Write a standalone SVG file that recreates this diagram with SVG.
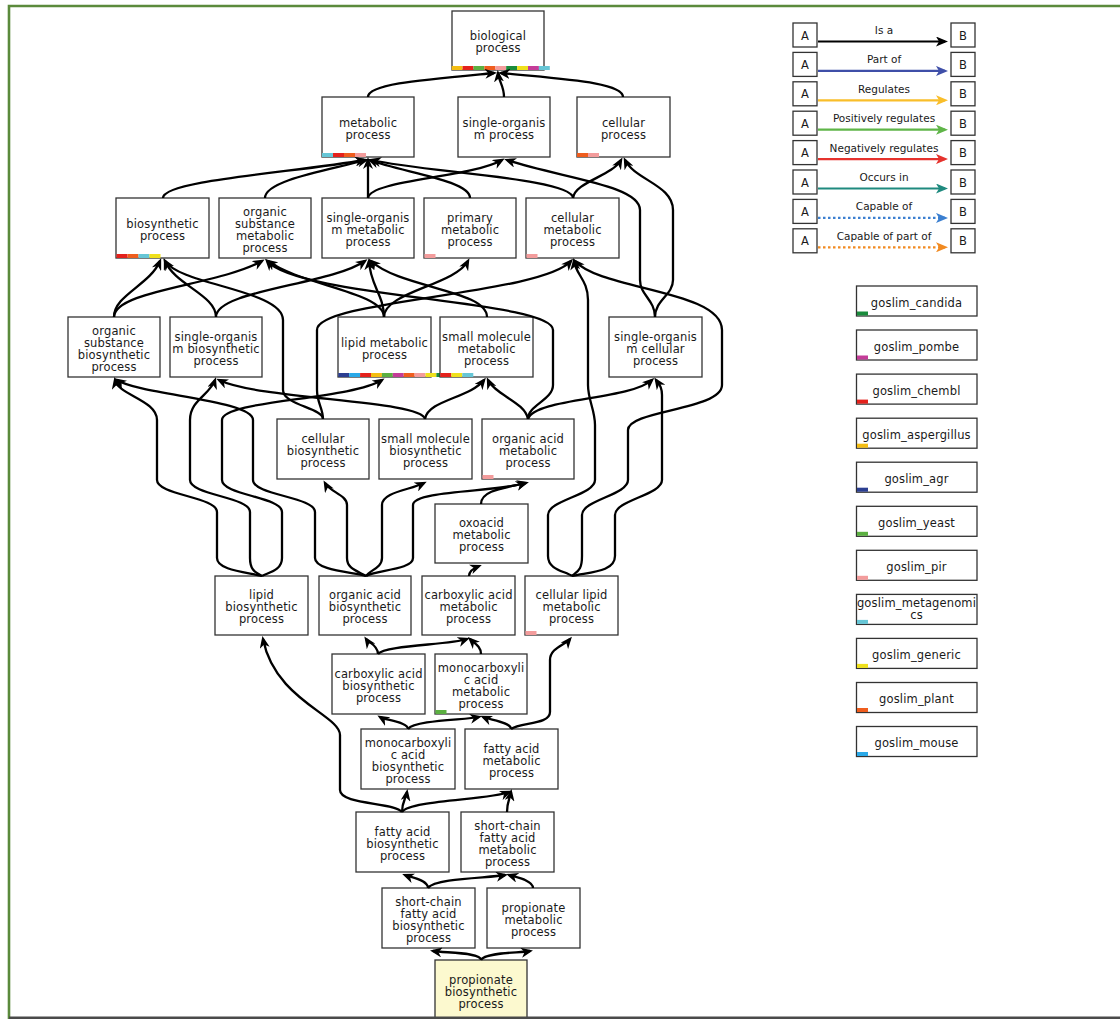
<svg xmlns="http://www.w3.org/2000/svg" width="1120" height="1019" viewBox="0 0 1120 1019">
<defs>
<style>
.n rect.b{fill:#fff;stroke:#333;stroke-width:1.3}
.n text,.lg text,.gs text{font-family:"DejaVu Sans",Verdana,sans-serif;font-size:11.5px;fill:#1a1a1a;text-anchor:middle;letter-spacing:0.15px}
.lg text.l{font-size:10.5px;letter-spacing:0}
.lg rect,.gs rect.b{fill:#fff;stroke:#333;stroke-width:1.3}
.e path{fill:none;stroke:#000;stroke-width:2.3;marker-end:url(#ah)}
.la{fill:none;stroke-width:2.2}
.dot{stroke-dasharray:2.5 2.5}
.k-cand{fill:#1a8c3c}.k-pomb{fill:#c43c98}.k-chem{fill:#e4211c}.k-asp{fill:#f4bd12}.k-agr{fill:#2b3e91}.k-yea{fill:#5bb041}.k-pir{fill:#f39c9c}.k-meta{fill:#66c6d6}.k-gen{fill:#efe01c}.k-pla{fill:#ef5d1e}.k-mou{fill:#2aa9e8}
</style>
<marker id="ah" viewBox="0 0 12 10" markerWidth="12" markerHeight="10" refX="9" refY="5" orient="auto" markerUnits="userSpaceOnUse"><path d="M0,0 L12,5 L0,10 L3.5,5 z" fill="#000"/></marker>
<marker id="m0" viewBox="0 0 12 10" markerWidth="12" markerHeight="10" refX="9" refY="5" orient="auto" markerUnits="userSpaceOnUse"><path d="M0,0 L12,5 L0,10 L3,5 z" fill="#000"/></marker>
<marker id="m1" viewBox="0 0 12 10" markerWidth="12" markerHeight="10" refX="9" refY="5" orient="auto" markerUnits="userSpaceOnUse"><path d="M0,0 L12,5 L0,10 L3,5 z" fill="#3f4fa8"/></marker>
<marker id="m2" viewBox="0 0 12 10" markerWidth="12" markerHeight="10" refX="9" refY="5" orient="auto" markerUnits="userSpaceOnUse"><path d="M0,0 L12,5 L0,10 L3,5 z" fill="#f9be2a"/></marker>
<marker id="m3" viewBox="0 0 12 10" markerWidth="12" markerHeight="10" refX="9" refY="5" orient="auto" markerUnits="userSpaceOnUse"><path d="M0,0 L12,5 L0,10 L3,5 z" fill="#5fb548"/></marker>
<marker id="m4" viewBox="0 0 12 10" markerWidth="12" markerHeight="10" refX="9" refY="5" orient="auto" markerUnits="userSpaceOnUse"><path d="M0,0 L12,5 L0,10 L3,5 z" fill="#e5322d"/></marker>
<marker id="m5" viewBox="0 0 12 10" markerWidth="12" markerHeight="10" refX="9" refY="5" orient="auto" markerUnits="userSpaceOnUse"><path d="M0,0 L12,5 L0,10 L3,5 z" fill="#1f8a7f"/></marker>
<marker id="m6" viewBox="0 0 12 10" markerWidth="12" markerHeight="10" refX="9" refY="5" orient="auto" markerUnits="userSpaceOnUse"><path d="M0,0 L12,5 L0,10 L3,5 z" fill="#3b7fd0"/></marker>
<marker id="m7" viewBox="0 0 12 10" markerWidth="12" markerHeight="10" refX="9" refY="5" orient="auto" markerUnits="userSpaceOnUse"><path d="M0,0 L12,5 L0,10 L3,5 z" fill="#f18a21"/></marker>
</defs>
<rect x="0" y="0" width="1120" height="1019" fill="#fff"/>
<path d="M1120,6 H9 V1019" fill="none" stroke="#5b8a3c" stroke-width="2.6"/>

<g id="nodes">
<g id="n-bio" class="n"><rect class="b" x="452" y="11" width="92" height="59"/><rect class="k-asp" x="451.7" y="66" width="10.9" height="4"/><rect class="k-chem" x="462.6" y="66" width="10.9" height="4"/><rect class="k-yea" x="473.5" y="66" width="10.9" height="4"/><rect class="k-pla" x="484.4" y="66" width="10.9" height="4"/><rect class="k-pir" x="495.3" y="66" width="10.9" height="4"/><rect class="k-cand" x="506.2" y="66" width="10.9" height="4"/><rect class="k-gen" x="517.1" y="66" width="10.9" height="4"/><rect class="k-pomb" x="528" y="66" width="10.9" height="4"/><rect class="k-meta" x="538.9" y="66" width="10.9" height="4"/><text x="498" y="40">biological</text><text x="498" y="52">process</text></g>
<g id="n-metab" class="n"><rect class="b" x="322" y="97" width="92" height="60"/><rect class="k-meta" x="322" y="153" width="11" height="4"/><rect class="k-chem" x="333" y="153" width="11" height="4"/><rect class="k-pla" x="344" y="153" width="11" height="4"/><rect class="k-pir" x="355" y="153" width="11" height="4"/><text x="368" y="126.5">metabolic</text><text x="368" y="138.5">process</text></g>
<g id="n-sop" class="n"><rect class="b" x="458" y="97" width="92" height="60"/><text x="504" y="126.5">single-organis</text><text x="504" y="138.5">m process</text></g>
<g id="n-cellp" class="n"><rect class="b" x="577" y="97" width="93" height="60"/><rect class="k-pla" x="577" y="153" width="11" height="4"/><rect class="k-pir" x="588" y="153" width="11" height="4"/><text x="623.5" y="126.5">cellular</text><text x="623.5" y="138.5">process</text></g>

<g id="n-biosyn" class="n"><rect class="b" x="116" y="198" width="93" height="60"/><rect class="k-chem" x="116.5" y="254" width="11" height="4"/><rect class="k-pla" x="127.5" y="254" width="11" height="4"/><rect class="k-meta" x="138.5" y="254" width="11" height="4"/><rect class="k-gen" x="149.5" y="254" width="11" height="4"/><text x="162.5" y="227.5">biosynthetic</text><text x="162.5" y="239.5">process</text></g>
<g id="n-osm" class="n"><rect class="b" x="219" y="198" width="92" height="60"/><text x="265" y="215.5">organic</text><text x="265" y="227.5">substance</text><text x="265" y="239.5">metabolic</text><text x="265" y="251.5">process</text></g>
<g id="n-somp" class="n"><rect class="b" x="322" y="198" width="92" height="60"/><text x="368" y="221.5">single-organis</text><text x="368" y="233.5">m metabolic</text><text x="368" y="245.5">process</text></g>
<g id="n-prim" class="n"><rect class="b" x="424" y="198" width="92" height="60"/><rect class="k-pir" x="424.5" y="254" width="11" height="4"/><text x="470" y="221.5">primary</text><text x="470" y="233.5">metabolic</text><text x="470" y="245.5">process</text></g>
<g id="n-cellm" class="n"><rect class="b" x="526" y="198" width="93" height="60"/><rect class="k-pir" x="526.5" y="254" width="11" height="4"/><text x="572.5" y="221.5">cellular</text><text x="572.5" y="233.5">metabolic</text><text x="572.5" y="245.5">process</text></g>

<g id="n-osb" class="n"><rect class="b" x="68" y="317" width="92" height="60"/><text x="114" y="334.5">organic</text><text x="114" y="346.5">substance</text><text x="114" y="358.5">biosynthetic</text><text x="114" y="370.5">process</text></g>
<g id="n-sob" class="n"><rect class="b" x="170" y="317" width="92" height="60"/><text x="216" y="340.5">single-organis</text><text x="216" y="352.5">m biosynthetic</text><text x="216" y="364.5">process</text></g>
<g id="n-lipm" class="n"><rect class="b" x="338" y="317" width="93" height="60"/><rect class="k-agr" x="338.3" y="373" width="10.9" height="4"/><rect class="k-mou" x="349.2" y="373" width="10.9" height="4"/><rect class="k-chem" x="360.1" y="373" width="10.9" height="4"/><rect class="k-asp" x="371" y="373" width="10.9" height="4"/><rect class="k-yea" x="381.9" y="373" width="10.9" height="4"/><rect class="k-pomb" x="392.8" y="373" width="10.9" height="4"/><rect class="k-pla" x="403.7" y="373" width="10.9" height="4"/><rect class="k-pir" x="414.6" y="373" width="10.9" height="4"/><rect class="k-gen" x="425.5" y="373" width="10.9" height="4"/><rect class="k-cand" x="436.4" y="373" width="10.9" height="4"/><text x="384.5" y="346.5">lipid metabolic</text><text x="384.5" y="358.5">process</text></g>
<g id="n-smm" class="n"><rect class="b" x="440" y="317" width="93" height="60"/><rect class="k-chem" x="440.3" y="373" width="11" height="4"/><rect class="k-gen" x="451.3" y="373" width="11" height="4"/><rect class="k-meta" x="462.3" y="373" width="11" height="4"/><text x="486.5" y="340.5">small molecule</text><text x="486.5" y="352.5">metabolic</text><text x="486.5" y="364.5">process</text></g>
<g id="n-socp" class="n"><rect class="b" x="609" y="317" width="93" height="60"/><text x="655.5" y="340.5">single-organis</text><text x="655.5" y="352.5">m cellular</text><text x="655.5" y="364.5">process</text></g>

<g id="n-cellb" class="n"><rect class="b" x="277" y="419" width="92" height="60"/><text x="323" y="442.5">cellular</text><text x="323" y="454.5">biosynthetic</text><text x="323" y="466.5">process</text></g>
<g id="n-smb" class="n"><rect class="b" x="379" y="419" width="93" height="60"/><text x="425.5" y="442.5">small molecule</text><text x="425.5" y="454.5">biosynthetic</text><text x="425.5" y="466.5">process</text></g>
<g id="n-oam" class="n"><rect class="b" x="482" y="419" width="92" height="60"/><rect class="k-pir" x="482.5" y="475" width="11" height="4"/><text x="528" y="442.5">organic acid</text><text x="528" y="454.5">metabolic</text><text x="528" y="466.5">process</text></g>
<g id="n-oxo" class="n"><rect class="b" x="435" y="504" width="93" height="59"/><text x="481.5" y="527">oxoacid</text><text x="481.5" y="539">metabolic</text><text x="481.5" y="551">process</text></g>

<g id="n-lipb" class="n"><rect class="b" x="215" y="576" width="93" height="59"/><text x="261.5" y="599">lipid</text><text x="261.5" y="611">biosynthetic</text><text x="261.5" y="623">process</text></g>
<g id="n-oab" class="n"><rect class="b" x="319" y="576" width="92" height="59"/><text x="365" y="599">organic acid</text><text x="365" y="611">biosynthetic</text><text x="365" y="623">process</text></g>
<g id="n-cam" class="n"><rect class="b" x="422" y="576" width="93" height="59"/><text x="468.5" y="599">carboxylic acid</text><text x="468.5" y="611">metabolic</text><text x="468.5" y="623">process</text></g>
<g id="n-clm" class="n"><rect class="b" x="525" y="576" width="93" height="59"/><rect class="k-pir" x="525.5" y="631" width="11" height="4"/><text x="571.5" y="599">cellular lipid</text><text x="571.5" y="611">metabolic</text><text x="571.5" y="623">process</text></g>

<g id="n-cab" class="n"><rect class="b" x="332" y="654" width="93" height="60"/><text x="378.5" y="677.5">carboxylic acid</text><text x="378.5" y="689.5">biosynthetic</text><text x="378.5" y="701.5">process</text></g>
<g id="n-mcm" class="n"><rect class="b" x="435" y="654" width="92" height="60"/><rect class="k-yea" x="435.5" y="710" width="11" height="4"/><text x="481" y="671.5">monocarboxyli</text><text x="481" y="683.5">c acid</text><text x="481" y="695.5">metabolic</text><text x="481" y="707.5">process</text></g>

<g id="n-mcb" class="n"><rect class="b" x="361" y="729" width="94" height="60"/><text x="408" y="746.5">monocarboxyli</text><text x="408" y="758.5">c acid</text><text x="408" y="770.5">biosynthetic</text><text x="408" y="782.5">process</text></g>
<g id="n-fam" class="n"><rect class="b" x="465" y="729" width="93" height="60"/><text x="511.5" y="752.5">fatty acid</text><text x="511.5" y="764.5">metabolic</text><text x="511.5" y="776.5">process</text></g>

<g id="n-fab" class="n"><rect class="b" x="356" y="812" width="93" height="60"/><text x="402.5" y="835.5">fatty acid</text><text x="402.5" y="847.5">biosynthetic</text><text x="402.5" y="859.5">process</text></g>
<g id="n-scfm" class="n"><rect class="b" x="461" y="812" width="93" height="60"/><text x="507.5" y="829.5">short-chain</text><text x="507.5" y="841.5">fatty acid</text><text x="507.5" y="853.5">metabolic</text><text x="507.5" y="865.5">process</text></g>

<g id="n-scfb" class="n"><rect class="b" x="382" y="888" width="93" height="60"/><text x="428.5" y="905.5">short-chain</text><text x="428.5" y="917.5">fatty acid</text><text x="428.5" y="929.5">biosynthetic</text><text x="428.5" y="941.5">process</text></g>
<g id="n-ppm" class="n"><rect class="b" x="487" y="888" width="93" height="60"/><text x="533.5" y="911.5">propionate</text><text x="533.5" y="923.5">metabolic</text><text x="533.5" y="935.5">process</text></g>

<g id="n-ppb" class="n"><rect class="b" x="435" y="960" width="92" height="60" style="fill:#fcf9cf"/><text x="481" y="983.5">propionate</text><text x="481" y="995.5">biosynthetic</text><text x="481" y="1007.5">process</text></g>
</g>

<g id="edges" class="e">
<path d="M368,97 C368,84 420,80 494,73"/>
<path d="M504,97 C504,86 499,82 498,73"/>
<path d="M623,97 C623,82 560,79 501,73"/>

<path d="M163,198 C163,180 300,172 364,160"/>
<path d="M265,198 C265,180 330,170 366,160"/>
<path d="M368,198 C368,185 368,172 368,160"/>
<path d="M368,198 C370,180 470,178 502,160"/>
<path d="M470,198 C470,180 400,172 370,160"/>
<path d="M573,198 C573,178 420,172 372,160"/>
<path d="M573,198 C575,182 612,176 621,160"/>
<path d="M655,317 C655,300 640,295 640,280 L640,210 C640,185 560,178 507,160"/>
<path d="M655,317 C655,300 673,295 673,280 L673,210 C673,185 635,180 625,160"/>

<path d="M114,317 C114,295 150,285 160,261"/>
<path d="M114,317 C114,290 220,285 262,261"/>
<path d="M216,317 C216,295 175,285 165,261"/>
<path d="M216,317 C216,290 330,285 365,261"/>
<path d="M384,317 C384,292 300,285 268,261"/>
<path d="M384,317 C384,295 370,285 369,261"/>
<path d="M384,317 C384,292 455,285 468,261"/>
<path d="M487,317 C487,290 400,288 371,261"/>
<path d="M323,419 C323,408 283,405 283,390 L283,320 C283,290 180,285 165,261"/>
<path d="M323,419 C323,408 317,403 317,390 L317,330 C317,300 540,295 571,261"/>
<path d="M528,419 C528,405 553,400 553,385 L553,330 C553,300 300,298 267,261"/>
<path d="M572,576 C565,571 548,570 548,556 L548,515 C548,500 595,495 595,480 L595,425 C595,410 588,400 588,385 L588,300 C588,280 576,275 574,261"/>
<path d="M572,576 C578,571 582,570 582,556 L582,515 C582,500 628,495 628,480 L628,430 C628,410 722,410 722,385 L722,330 C722,290 600,290 575,261"/>
<path d="M572,576 C590,572 615,572 615,556 L615,515 C615,500 662,495 662,480 L662,395 C662,385 658,383 656,380"/>

<path d="M425,419 C422,400 260,400 219,380"/>
<path d="M425,419 C428,400 470,398 484,380"/>
<path d="M528,419 C525,402 495,395 488,380"/>
<path d="M528,419 C535,398 630,400 652,380"/>
<path d="M262,576 C270,572 282,570 282,558 L282,512 C282,497 222,495 222,480 L222,420 C222,400 350,400 382,380"/>
<path d="M262,576 C245,572 217,570 217,558 L217,512 C217,497 157,495 157,480 L157,420 C157,400 118,395 115,380"/>
<path d="M262,576 C255,572 250,570 250,558 L250,512 C250,497 190,495 190,480 L190,420 C190,400 210,395 215,380"/>
<path d="M366,576 C350,572 315,570 315,558 L315,512 C315,497 253,495 253,480 L253,420 C253,400 140,395 117,380"/>

<path d="M366,576 C355,570 347,568 347,558 L347,505 C347,495 330,492 325,483"/>
<path d="M366,576 C370,570 382,568 382,558 L382,505 C382,492 410,490 424,483"/>
<path d="M366,576 C375,570 413,570 413,558 L413,505 C413,490 500,492 525,483"/>
<path d="M481,504 C481,490 505,488 526,483"/>
<path d="M469,576 C469,571 474,568 479,566"/>

<path d="M378,654 C378,645 368,642 366,639"/>
<path d="M378,654 C385,645 450,645 467,639"/>
<path d="M481,654 C481,646 474,643 470,639"/>

<path d="M408,729 C408,722 385,720 380,717"/>
<path d="M408,729 C415,720 465,720 479,717"/>
<path d="M511,729 C511,722 490,720 483,717"/>
<path d="M511,729 C520,722 550,725 550,712 L550,660 C550,648 565,645 570,639"/>

<path d="M402,812 C402,802 406,798 407,792"/>
<path d="M402,812 C410,800 490,800 509,792"/>
<path d="M402,812 C395,802 340,805 340,790 L340,735 C340,715 275,700 263,639"/>

<path d="M507,812 C507,802 510,798 511,792"/>
<path d="M428,888 C428,880 410,877 405,875"/>
<path d="M428,888 C435,878 490,878 505,875"/>
<path d="M533,888 C533,880 515,877 509,875"/>

<path d="M481,960 C481,952 445,953 433,951"/>
<path d="M481,960 C485,952 520,953 530,951"/>
</g>

<g id="legend" class="lg">
<g id="lg-isa"><rect x="793" y="23" width="24" height="24"/><rect x="951" y="23" width="24" height="24"/><text x="805" y="39.5">A</text><text x="963" y="39.5">B</text><text class="l" x="884" y="34">Is a</text><path class="la" d="M818,41.5 H945" stroke="#000" marker-end="url(#m0)"/></g>
<g id="lg-partof"><rect x="793" y="52.4" width="24" height="24"/><rect x="951" y="52.4" width="24" height="24"/><text x="805" y="68.9">A</text><text x="963" y="68.9">B</text><text class="l" x="884" y="63.4">Part of</text><path class="la" d="M818,70.9 H945" stroke="#3f4fa8" marker-end="url(#m1)"/></g>
<g id="lg-reg"><rect x="793" y="81.8" width="24" height="24"/><rect x="951" y="81.8" width="24" height="24"/><text x="805" y="98.3">A</text><text x="963" y="98.3">B</text><text class="l" x="884" y="92.8">Regulates</text><path class="la" d="M818,100.3 H945" stroke="#f9be2a" marker-end="url(#m2)"/></g>
<g id="lg-pos"><rect x="793" y="111.2" width="24" height="24"/><rect x="951" y="111.2" width="24" height="24"/><text x="805" y="127.7">A</text><text x="963" y="127.7">B</text><text class="l" x="884" y="122.2">Positively regulates</text><path class="la" d="M818,129.7 H945" stroke="#5fb548" marker-end="url(#m3)"/></g>
<g id="lg-neg"><rect x="793" y="140.6" width="24" height="24"/><rect x="951" y="140.6" width="24" height="24"/><text x="805" y="157.1">A</text><text x="963" y="157.1">B</text><text class="l" x="884" y="151.6">Negatively regulates</text><path class="la" d="M818,159.1 H945" stroke="#e5322d" marker-end="url(#m4)"/></g>
<g id="lg-occ"><rect x="793" y="170" width="24" height="24"/><rect x="951" y="170" width="24" height="24"/><text x="805" y="186.5">A</text><text x="963" y="186.5">B</text><text class="l" x="884" y="181">Occurs in</text><path class="la" d="M818,188.5 H945" stroke="#1f8a7f" marker-end="url(#m5)"/></g>
<g id="lg-cap"><rect x="793" y="199.4" width="24" height="24"/><rect x="951" y="199.4" width="24" height="24"/><text x="805" y="215.9">A</text><text x="963" y="215.9">B</text><text class="l" x="884" y="210.4">Capable of</text><path class="la dot" d="M818,217.9 H945" stroke="#3b7fd0" marker-end="url(#m6)"/></g>
<g id="lg-cappart"><rect x="793" y="228.8" width="24" height="24"/><rect x="951" y="228.8" width="24" height="24"/><text x="805" y="245.3">A</text><text x="963" y="245.3">B</text><text class="l" x="884" y="239.8">Capable of part of</text><path class="la dot" d="M818,247.3 H945" stroke="#f18a21" marker-end="url(#m7)"/></g>
</g>

<g id="goslims" class="gs">
<g id="gs-candida"><rect class="b" x="856.5" y="286" width="120.5" height="30"/><rect class="k-cand" x="857" y="311.5" width="11" height="4"/><text x="916.5" y="306.5">goslim_candida</text></g>
<g id="gs-pombe"><rect class="b" x="856.5" y="330" width="120.5" height="30"/><rect class="k-pomb" x="857" y="355.5" width="11" height="4"/><text x="916.5" y="350.5">goslim_pombe</text></g>
<g id="gs-chembl"><rect class="b" x="856.5" y="374.1" width="120.5" height="30"/><rect class="k-chem" x="857" y="399.6" width="11" height="4"/><text x="916.5" y="394.6">goslim_chembl</text></g>
<g id="gs-aspergillus"><rect class="b" x="856.5" y="418.2" width="120.5" height="30"/><rect class="k-asp" x="857" y="443.7" width="11" height="4"/><text x="916.5" y="438.7">goslim_aspergillus</text></g>
<g id="gs-agr"><rect class="b" x="856.5" y="462.2" width="120.5" height="30"/><rect class="k-agr" x="857" y="487.7" width="11" height="4"/><text x="916.5" y="482.7">goslim_agr</text></g>
<g id="gs-yeast"><rect class="b" x="856.5" y="506.3" width="120.5" height="30"/><rect class="k-yea" x="857" y="531.8" width="11" height="4"/><text x="916.5" y="526.8">goslim_yeast</text></g>
<g id="gs-pir"><rect class="b" x="856.5" y="550.3" width="120.5" height="30"/><rect class="k-pir" x="857" y="575.8" width="11" height="4"/><text x="916.5" y="570.8">goslim_pir</text></g>
<g id="gs-metagenomics"><rect class="b" x="856.5" y="594.4" width="120.5" height="30"/><rect class="k-meta" x="857" y="619.9" width="11" height="4"/><text x="916.5" y="607.4">goslim_metagenomi</text><text x="916.5" y="619.4">cs</text></g>
<g id="gs-generic"><rect class="b" x="856.5" y="638.4" width="120.5" height="30"/><rect class="k-gen" x="857" y="663.9" width="11" height="4"/><text x="916.5" y="658.9">goslim_generic</text></g>
<g id="gs-plant"><rect class="b" x="856.5" y="682.5" width="120.5" height="30"/><rect class="k-pla" x="857" y="708" width="11" height="4"/><text x="916.5" y="703">goslim_plant</text></g>
<g id="gs-mouse"><rect class="b" x="856.5" y="726.5" width="120.5" height="30"/><rect class="k-mou" x="857" y="752" width="11" height="4"/><text x="916.5" y="747">goslim_mouse</text></g>
</g>

<rect x="9" y="1016.5" width="1111" height="2.5" fill="#4a4a4a"/>
</svg>
